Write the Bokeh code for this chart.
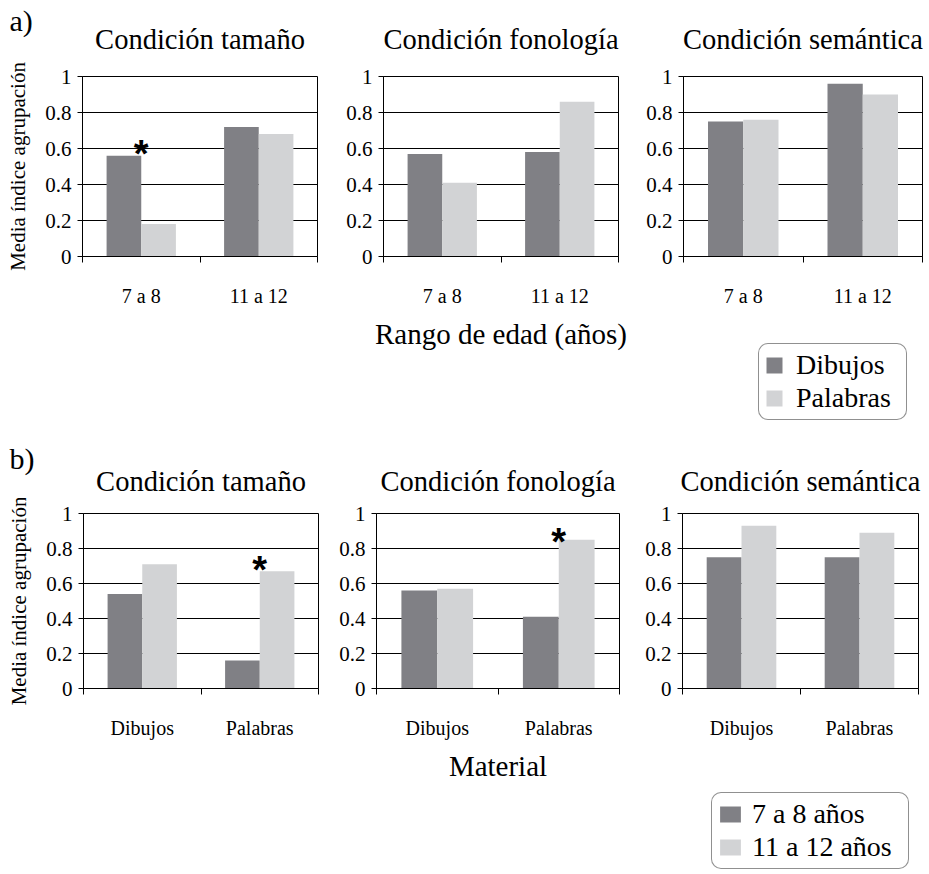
from bokeh.plotting import figure
from bokeh.layouts import column, row
from bokeh.models import (Range1d, FixedTicker, CustomJSTickFormatter, Legend, LegendItem,
                          ColumnDataSource)
from bokeh.core.properties import value
from bokeh.embed import file_html
from bokeh.resources import INLINE

# ---------------- data ----------------
titles = ["Condición tamaño", "Condición fonología", "Condición semántica"]
y_ticks = [0, 0.2, 0.4, 0.6, 0.8, 1]
y_label = "Media índice agrupación"

# a) by age range, series = material
a_categories = ["7 a 8", "11 a 12"]
a_series = ["Dibujos", "Palabras"]
a_x_label = "Rango de edad (años)"
a_tam_dibujos = [0.56, 0.72]
a_tam_palabras = [0.18, 0.68]
a_fon_dibujos = [0.57, 0.58]
a_fon_palabras = [0.41, 0.86]
a_sem_dibujos = [0.75, 0.96]
a_sem_palabras = [0.76, 0.90]
a_star_panel = ["Condición tamaño"]
a_star_category = ["7 a 8"]
a_star_y = [0.62]

# b) by material, series = age range
b_categories = ["Dibujos", "Palabras"]
b_series = ["7 a 8 años", "11 a 12 años"]
b_x_label = "Material"
b_tam_7a8 = [0.54, 0.16]
b_tam_11a12 = [0.71, 0.67]
b_fon_7a8 = [0.56, 0.41]
b_fon_11a12 = [0.57, 0.85]
b_sem_7a8 = [0.75, 0.75]
b_sem_11a12 = [0.93, 0.89]
b_star_panel = ["Condición tamaño", "Condición fonología"]
b_star_category = ["Palabras", "Palabras"]
b_star_y = [0.73, 0.89]

# ---------------- style / layout ----------------
SERIF = "Liberation Serif"
DARK = "#808085"
LIGHT = "#d2d3d5"
BAR_W = 0.295
TOTAL_W = 929

A_LEFT, A_FW, A_RIGHT, A_FH, A_TOP = [82, 46, 45], [235, 235, 239], [20, 20, 7], 180, 20
B_LEFT, B_FW, B_RIGHT, B_FH, B_TOP = [83, 43, 48], [235, 243, 236], [15, 15, 11], 175, 15


def frame_centers(lefts, fws, rights):
    out, x0 = [], 0
    for l, w, r in zip(lefts, fws, rights):
        out.append(x0 + l + w / 2)
        x0 += l + w + r
    return out


def blank_fig(w, h, xmax, ymax):
    p = figure(width=w, height=h, x_range=Range1d(0, xmax), y_range=Range1d(0, ymax),
               min_border=0, x_axis_location=None, y_axis_location=None,
               output_backend="svg", toolbar_location=None, tools="")
    p.outline_line_color = None
    p.background_fill_color = "white"
    p.border_fill_color = "white"
    p.grid.visible = False
    return p


def header(label, centers, label_mid, title_mid, h):
    p = blank_fig(TOTAL_W, h, TOTAL_W, h)
    p.text(x=[9], y=[h - label_mid], text=[label], text_font=value(SERIF),
           text_font_size="30px", text_baseline="middle", text_align="left",
           text_color="black")
    p.text(x=centers, y=[h - title_mid] * len(centers), text=titles, text_font=value(SERIF),
           text_font_size="28.5px", text_baseline="middle", text_align="center",
           text_color="black")
    return p


def make_panel(categories, dark_vals, light_vals, fw, fh, bl, br, bt, bb,
               ylab=None, xlab=None, stars=()):
    n = len(categories)
    p = figure(frame_width=fw, frame_height=fh,
               x_range=Range1d(0, n), y_range=Range1d(0, 1),
               min_border_left=bl, min_border_right=br, min_border_top=bt,
               min_border_bottom=bb, output_backend="svg", toolbar_location=None, tools="")
    p.background_fill_color = "white"
    p.border_fill_color = "white"
    p.outline_line_color = "black"
    p.outline_line_alpha = 1
    p.outline_line_width = 1

    centers = [i + 0.5 for i in range(n)]
    src = ColumnDataSource(dict(xd=[c - BAR_W / 2 for c in centers],
                                xl=[c + BAR_W / 2 for c in centers],
                                dark=dark_vals, light=light_vals))
    p.vbar(x="xd", top="dark", width=BAR_W, source=src, fill_color=DARK, line_color=None)
    p.vbar(x="xl", top="light", width=BAR_W, source=src, fill_color=LIGHT, line_color=None)

    if stars:
        sx = [categories.index(c) + 0.5 for c, _ in stars]
        sy = [v for _, v in stars]
        p.text(x=sx, y=sy, text=["*"] * len(sx), text_font=value("Liberation Sans"),
               text_font_style="bold", text_font_size="38px", text_align="center",
               text_baseline="middle", y_offset=9, text_color="black")

    xa = p.xaxis[0]
    xa.ticker = FixedTicker(ticks=centers, minor_ticks=list(range(n + 1)))
    xa.major_label_overrides = {float(c): lab for c, lab in zip(centers, categories)}
    xa.major_tick_in = 0
    xa.major_tick_out = 0
    xa.minor_tick_in = 0
    xa.minor_tick_out = 6
    xa.minor_tick_line_color = "black"
    xa.axis_line_color = "black"
    xa.major_label_standoff = 22
    xa.major_label_text_font = SERIF
    xa.major_label_text_font_size = "20px"
    xa.major_label_text_color = "black"
    if xlab:
        xa.axis_label = xlab
        xa.axis_label_text_font = SERIF
        xa.axis_label_text_font_size = "29px"
        xa.axis_label_text_font_style = "normal"
        xa.axis_label_text_color = "black"
        xa.axis_label_standoff = 8

    ya = p.yaxis[0]
    ya.ticker = FixedTicker(ticks=y_ticks, minor_ticks=[])
    ya.formatter = CustomJSTickFormatter(code="return String(Math.round(tick * 10) / 10)")
    ya.major_tick_in = 0
    ya.major_tick_out = 5
    ya.major_tick_line_color = "black"
    ya.minor_tick_line_color = None
    ya.axis_line_color = "black"
    ya.major_label_standoff = 6
    ya.major_label_text_font = SERIF
    ya.major_label_text_font_size = "21px"
    ya.major_label_text_color = "black"
    if ylab:
        ya.axis_label = ylab
        ya.axis_label_text_font = SERIF
        ya.axis_label_text_font_size = "21px"
        ya.axis_label_text_font_style = "normal"
        ya.axis_label_text_color = "black"
        ya.axis_label_standoff = 12

    p.xgrid.visible = False
    p.ygrid.ticker = FixedTicker(ticks=y_ticks)
    p.ygrid.grid_line_color = "black"
    p.ygrid.grid_line_alpha = 1
    p.ygrid.grid_line_width = 1
    return p


def legend_fig(w, h, names, vx, vy, glyph_w, standoff, label_w):
    p = blank_fig(w, h, 1, 1)
    # zero-height proxy bars: they only carry the legend swatches
    proxy = ColumnDataSource(dict(x=[0.5], top=[0]))
    r1 = p.vbar(x="x", top="top", width=0.1, source=proxy, fill_color=DARK, line_color=None)
    r2 = p.vbar(x="x", top="top", width=0.1, source=proxy, fill_color=LIGHT, line_color=None)
    leg = Legend(items=[LegendItem(label=names[0], renderers=[r1]),
                        LegendItem(label=names[1], renderers=[r2])],
                 location=(vx, vy), orientation="vertical")
    leg.label_text_font = SERIF
    leg.label_text_font_size = "28px"
    leg.label_text_color = "black"
    leg.glyph_width = glyph_w
    leg.glyph_height = 20
    leg.label_standoff = standoff
    leg.label_width = label_w
    leg.padding = 5
    leg.spacing = 1
    leg.margin = 0
    leg.border_line_color = "#222222"
    leg.border_line_width = 1.5
    leg.background_fill_color = "white"
    leg.background_fill_alpha = 1
    if "border_radius" in Legend.properties():
        leg.border_radius = 10
    p.add_layout(leg)
    return p


def stars_for(title, panels, cats, ys):
    return [(c, v) for t, c, v in zip(panels, cats, ys) if t == title]


# ---------------- part a ----------------
hdr_a = header("a)", frame_centers(A_LEFT, A_FW, A_RIGHT), 19.5, 38.5, h=56)
f1 = make_panel(a_categories, a_tam_dibujos, a_tam_palabras,
                A_FW[0], A_FH, A_LEFT[0], A_RIGHT[0], A_TOP, 60, ylab=y_label,
                stars=stars_for(titles[0], a_star_panel, a_star_category, a_star_y))
f2 = make_panel(a_categories, a_fon_dibujos, a_fon_palabras,
                A_FW[1], A_FH, A_LEFT[1], A_RIGHT[1], A_TOP, 100, xlab=a_x_label,
                stars=stars_for(titles[1], a_star_panel, a_star_category, a_star_y))
f3 = make_panel(a_categories, a_sem_dibujos, a_sem_palabras,
                A_FW[2], A_FH, A_LEFT[2], A_RIGHT[2], A_TOP, 60,
                stars=stars_for(titles[2], a_star_panel, a_star_category, a_star_y))
leg_a = legend_fig(A_LEFT[2] + A_FW[2] + A_RIGHT[2], 121, a_series, 75, 17, 20, 12, 105)

# ---------------- part b ----------------
hdr_b = header("b)", frame_centers(B_LEFT, B_FW, B_RIGHT), 20.5, 44, h=61)
f4 = make_panel(b_categories, b_tam_7a8, b_tam_11a12,
                B_FW[0], B_FH, B_LEFT[0], B_RIGHT[0], B_TOP, 60, ylab=y_label,
                stars=stars_for(titles[0], b_star_panel, b_star_category, b_star_y))
f5 = make_panel(b_categories, b_fon_7a8, b_fon_11a12,
                B_FW[1], B_FH, B_LEFT[1], B_RIGHT[1], B_TOP, 100, xlab=b_x_label,
                stars=stars_for(titles[1], b_star_panel, b_star_category, b_star_y))
f6 = make_panel(b_categories, b_sem_7a8, b_sem_11a12,
                B_FW[2], B_FH, B_LEFT[2], B_RIGHT[2], B_TOP, 60,
                stars=stars_for(titles[2], b_star_panel, b_star_category, b_star_y))
leg_b = legend_fig(B_LEFT[2] + B_FW[2] + B_RIGHT[2], 124, b_series, 29, 3, 26, 9, 151)

layout = column(
    hdr_a,
    row(f1, f2, column(f3, leg_a)),
    hdr_b,
    row(f4, f5, column(f6, leg_b)),
)
open("out.html", "w").write(file_html(layout, INLINE))
